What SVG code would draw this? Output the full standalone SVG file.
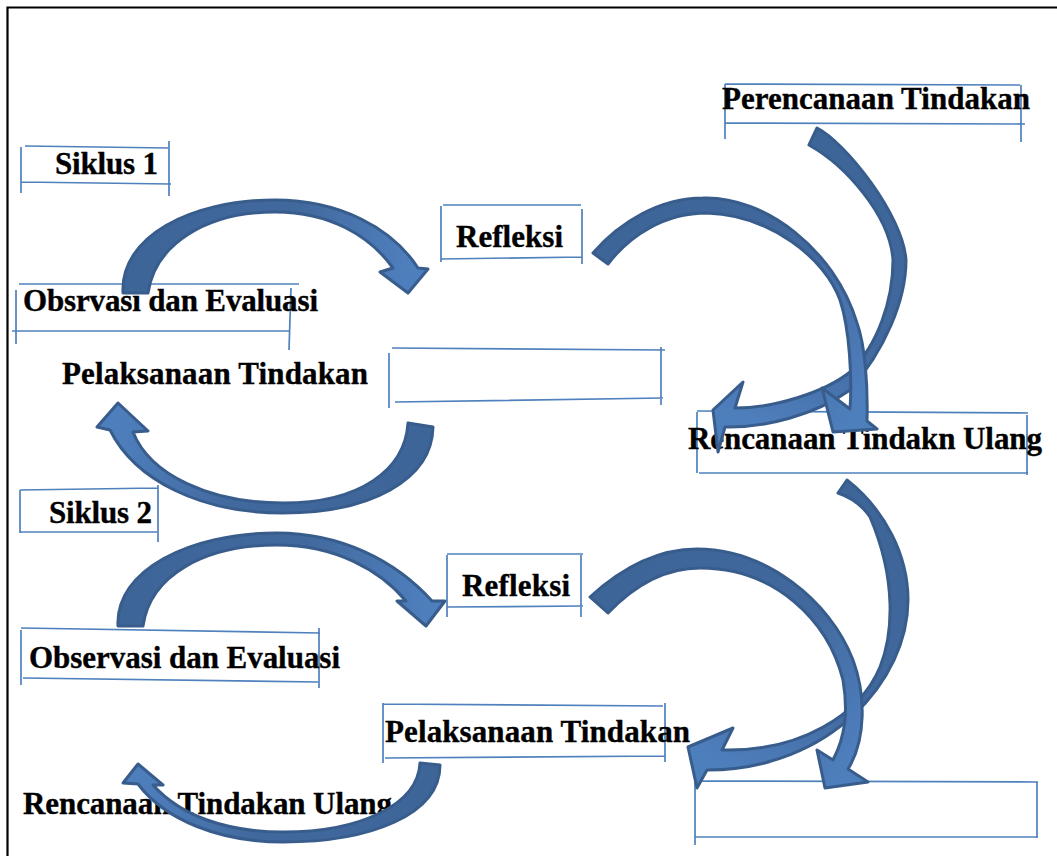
<svg xmlns="http://www.w3.org/2000/svg" width="1057" height="856" viewBox="0 0 1057 856">
<defs>
<style>
.frame{stroke:#000;stroke-width:2.2;fill:none}
.box{stroke:#4f81bd;stroke-width:1.7;fill:none}
.lbl{font-family:"Liberation Serif","Times New Roman",serif;font-weight:bold;font-size:31px;fill:#000;stroke:#000;stroke-width:0.35}
.arr{stroke:#385d8c;stroke-width:3;stroke-linejoin:round}
</style>
<linearGradient id="g1" gradientUnits="userSpaceOnUse" x1="135" y1="293" x2="408" y2="293"><stop offset="0" stop-color="#3e6598"/><stop offset="0.6" stop-color="#42699e"/><stop offset="1" stop-color="#4e7fbd"/></linearGradient>
<linearGradient id="g2" gradientUnits="userSpaceOnUse" x1="600" y1="258" x2="850" y2="420"><stop offset="0" stop-color="#3e6598"/><stop offset="0.6" stop-color="#42699e"/><stop offset="1" stop-color="#4e7fbd"/></linearGradient>
<linearGradient id="g3" gradientUnits="userSpaceOnUse" x1="813" y1="136" x2="713" y2="410"><stop offset="0" stop-color="#3e6598"/><stop offset="0.6" stop-color="#42699e"/><stop offset="1" stop-color="#4e7fbd"/></linearGradient>
<linearGradient id="g4" gradientUnits="userSpaceOnUse" x1="420" y1="425" x2="118" y2="403"><stop offset="0" stop-color="#3e6598"/><stop offset="0.6" stop-color="#42699e"/><stop offset="1" stop-color="#4e7fbd"/></linearGradient>
<linearGradient id="g5" gradientUnits="userSpaceOnUse" x1="130" y1="626" x2="426" y2="626"><stop offset="0" stop-color="#3e6598"/><stop offset="0.6" stop-color="#42699e"/><stop offset="1" stop-color="#4e7fbd"/></linearGradient>
<linearGradient id="g6" gradientUnits="userSpaceOnUse" x1="599" y1="605" x2="840" y2="780"><stop offset="0" stop-color="#3e6598"/><stop offset="0.6" stop-color="#42699e"/><stop offset="1" stop-color="#4e7fbd"/></linearGradient>
<linearGradient id="g7" gradientUnits="userSpaceOnUse" x1="842" y1="486" x2="688" y2="747"><stop offset="0" stop-color="#3e6598"/><stop offset="0.6" stop-color="#42699e"/><stop offset="1" stop-color="#4e7fbd"/></linearGradient>
<linearGradient id="g8" gradientUnits="userSpaceOnUse" x1="430" y1="764" x2="138" y2="764"><stop offset="0" stop-color="#3e6598"/><stop offset="0.6" stop-color="#42699e"/><stop offset="1" stop-color="#4e7fbd"/></linearGradient>
</defs>
<rect width="1057" height="856" fill="#fff"/>
<path class="frame" d="M7,7.5 L1057,7.5 M7.5,6.5 L7.5,856"/>

<g id="siklus1">
<path class="box" d="M25,146 L168,148 M21,182 L171,184 M21,147 L21,193 M169,141 L169,196"/>
<text class="lbl" x="55" y="174" textLength="103" lengthAdjust="spacing">Siklus 1</text>
</g>
<g id="observasi1">
<path class="box" d="M19,284 L299,284 M12,331 L289,331 M16,290 L16,344 M291,288 L289,350"/>
<text class="lbl" x="23" y="311" textLength="295" lengthAdjust="spacing">Obsrvasi dan Evaluasi</text>
</g>
<g id="refleksi1">
<path class="box" d="M443,205 L581,205 M441,259 L582,257 M441,206 L441,262 M582,209 L582,264"/>
<text class="lbl" x="456" y="247" textLength="107" lengthAdjust="spacing">Refleksi</text>
</g>
<g id="perencanaan">
<path class="box" d="M725,84 L1020,85 M725,123 L1025,124 M725,84 L725,139 M1021,85 L1021,142"/>
<text class="lbl" x="722" y="109" textLength="308" lengthAdjust="spacing">Perencanaan Tindakan</text>
</g>
<g id="pelaksanaan1">
<text class="lbl" x="62" y="384" textLength="306" lengthAdjust="spacing">Pelaksanaan Tindakan</text>
</g>
<g id="kotak-kosong1">
<path class="box" d="M392,348 L665,350 M395,402 L663,398 M389,353 L389,408 M661,347 L661,405"/>
</g>
<g id="rencanaan1">
<path class="box" d="M697,411 L1028,413 M699,473 L1028,473 M697,412 L697,473 M1027,415 L1027,475"/>
<text class="lbl" x="688" y="449" textLength="354" lengthAdjust="spacing">Rencanaan Tindakn Ulang</text>
</g>
<g id="siklus2">
<path class="box" d="M20,490 L158,488 M20,532 L157,532 M20,490 L20,533 M158,485 L158,542"/>
<text class="lbl" x="49" y="523" textLength="103" lengthAdjust="spacing">Siklus 2</text>
</g>
<g id="refleksi2">
<path class="box" d="M447,554 L583,554 M447,607 L583,606 M447,555 L447,617 M581,555 L581,617"/>
<text class="lbl" x="462" y="596" textLength="108" lengthAdjust="spacing">Refleksi</text>
</g>
<g id="observasi2">
<path class="box" d="M21,628 L320,633 M23,678 L318,682 M21,630 L21,685 M319,628 L319,688"/>
<text class="lbl" x="29" y="668" textLength="311" lengthAdjust="spacing">Observasi dan Evaluasi</text>
</g>
<g id="pelaksanaan2">
<path class="box" d="M383,704 L663,706 M385,758 L665,756 M383,703 L383,763 M665,703 L665,762"/>
<text class="lbl" x="385" y="742" textLength="305" lengthAdjust="spacing">Pelaksanaan Tindakan</text>
</g>
<g id="kotak-kosong2">
<path class="box" d="M695,781 L1038,782 M695,837 L1037,837 M695,781 L695,845 M1037,782 L1037,838"/>
</g>
<g id="rencanaan2">
<text class="lbl" x="23" y="814" textLength="369" lengthAdjust="spacing">Rencanaan Tindakan Ulang</text>
</g>

<g id="connectors">
<path class="arr" fill="url(#g1)" d="M123,293 C120,237 190,200 275,200 C340,200 392,228 418,268 L428,269 L408,293 L380,272 L393,268 C370,236 330,212 275,212 C205,212 155,245 148,293 Z"/>
<path class="arr" fill="url(#g4)" d="M433,427 C432,480 370,513 283,513 C200,513 135,480 110,430 L97,427 L118,403 L148,431 L133,432 C150,475 210,503 283,503 C360,503 405,470 408,423 Z"/>
<path class="arr" fill="url(#g3)" d="M817,128 C845,142 903,215 906,260 C906,300 885,350 850,390 C815,415 765,428 725,427 L718,452 L713,410 L743,382 L735,408 C775,408 825,392 850,372 C878,345 893,300 893,260 C890,215 845,165 809,145 Z"/>
<path class="arr" fill="url(#g2)" d="M593,253 C620,222 660,198 703,198 C765,196 835,250 857,323 C865,345 868,385 867,421 L877,429 L833,432 L822,388 L850,409 C852,380 850,330 840,300 C825,258 770,215 707,213 C665,213 630,235 608,264 Z"/>
<path class="arr" fill="url(#g5)" d="M118,626 C115,570 190,533 277,533 C340,533 395,560 432,601 L445,601 L426,626 L397,601 L406,601 C380,570 335,545 277,545 C205,545 150,575 143,626 Z"/>
<path class="arr" fill="url(#g8)" d="M440,765 C440,815 370,842 283,842 C220,842 165,820 138,784 L123,783 L138,764 L163,785 L153,785 C180,815 225,832 283,832 C360,832 418,805 420,763 Z"/>
<path class="arr" fill="url(#g7)" d="M847,480 C885,510 908,555 908,600 C908,680 830,770 707,770 L697,788 L688,747 L733,728 L722,750 C800,752 860,715 880,667 C893,635 897,580 870,517 C862,505 850,497 838,493 Z"/>
<path class="arr" fill="url(#g6)" d="M590,597 C625,565 660,549 697,549 C765,549 830,600 853,660 C866,695 866,740 848,769 L868,782 L825,788 L817,750 L833,760 C846,735 848,710 843,680 C828,620 775,568 700,568 C660,568 630,590 608,613 Z"/>
</g>
</svg>
